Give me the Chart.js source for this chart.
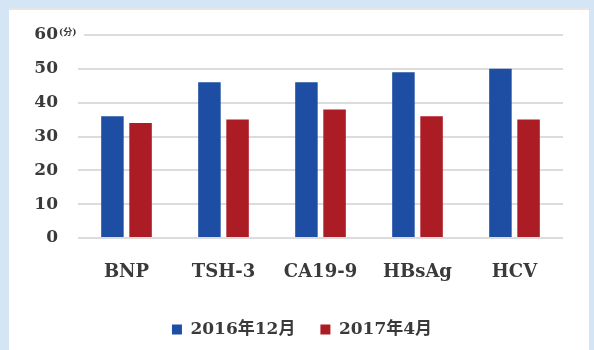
<!DOCTYPE html>
<html>
<head>
<meta charset="utf-8">
<script src="https://cdn.jsdelivr.net/npm/chart.js@4"></script>
<style>
html,body{margin:0;padding:0;background:#d4e6f5;}
#wrap{position:absolute;left:0;top:0;width:594px;height:350px;}
</style>
</head>
<body>
<div id="wrap"><canvas id="c" width="594" height="350"></canvas></div>
<script>
const categories = ["BNP", "TSH-3", "CA19-9", "HBsAg", "HCV"];
const series2016Dec = [36, 46, 46, 49, 50];
const series2017Apr = [34, 35, 38, 36, 35];
const seriesNames = ["2016年12月", "2017年4月"];
const yTicks = [0, 10, 20, 30, 40, 50, 60];
const yUnit = "(分)";

const serif = '"DejaVu Serif", "Liberation Serif", "Noto Sans CJK JP", serif';

const panelPlugin = {
  id: 'panel',
  beforeDraw(chart) {
    const ctx = chart.ctx;
    ctx.save();
    ctx.fillStyle = '#d4e6f5';
    ctx.fillRect(0, 0, chart.width, chart.height);
    ctx.fillStyle = '#ffffff';
    ctx.fillRect(9, 8, 580, 350);
    ctx.fillStyle = '#e6e6e6';
    ctx.fillRect(9, 8, 580, 2);
    ctx.restore();
  },
  afterDraw(chart) {
    const y = chart.scales.y;
    const ctx = chart.ctx;
    const py = y.getPixelForValue(60);
    ctx.save();
    ctx.fillStyle = '#ffffff';
    ctx.fillRect(y.right - 19, py - 6, 25, 12);
    ctx.fillStyle = '#3a3a3a';
    ctx.font = 'bold 9px ' + serif;
    ctx.textAlign = 'left';
    ctx.textBaseline = 'middle';
    ctx.fillText(yUnit, y.right - 19, py - 2);
    ctx.restore();
  }
};

new Chart(document.getElementById('c'), {
  type: 'bar',
  data: {
    labels: categories,
    datasets: [
      { label: seriesNames[0], data: series2016Dec, backgroundColor: '#1d4ea3' },
      { label: seriesNames[1], data: series2017Apr, backgroundColor: '#ac1c24' }
    ]
  },
  options: {
    responsive: false,
    animation: false,
    devicePixelRatio: 1,
    layout: { padding: { left: 10, right: 0, top: 35, bottom: 2 } },
    datasets: { bar: { categoryPercentage: 0.58, barPercentage: 0.8 } },
    scales: {
      x: {
        grid: { display: false, drawTicks: false },
        border: { display: false },
        ticks: { color: '#3a3a3a', font: { family: serif, size: 18, weight: 'bold' }, padding: 24 },
        afterFit(s) { s.height = 58; }
      },
      y: {
        min: 0, max: 60,
        afterBuildTicks(s) { s.ticks = yTicks.map(v => ({ value: v })); },
        grid: { color: '#dcdcdc', lineWidth: 2, drawTicks: false },
        border: { display: false },
        ticks: { color: '#3a3a3a', font: { family: serif, size: 17, weight: 'bold' }, padding: 20 },
        afterFit(s) { s.width = 68; }
      },
      yRight: {
        position: 'right',
        display: true,
        grid: { display: false, drawTicks: false },
        border: { display: false },
        ticks: { display: false },
        afterFit(s) { s.width = 31; }
      }
    },
    plugins: {
      legend: {
        position: 'bottom',
        labels: {
          color: '#3a3a3a',
          font: { family: serif, size: 17, weight: 'bold' },
          boxWidth: 10, boxHeight: 10,
          padding: 25
        }
      },
      tooltip: { enabled: false }
    }
  },
  plugins: [panelPlugin]
});
</script>
</body>
</html>
